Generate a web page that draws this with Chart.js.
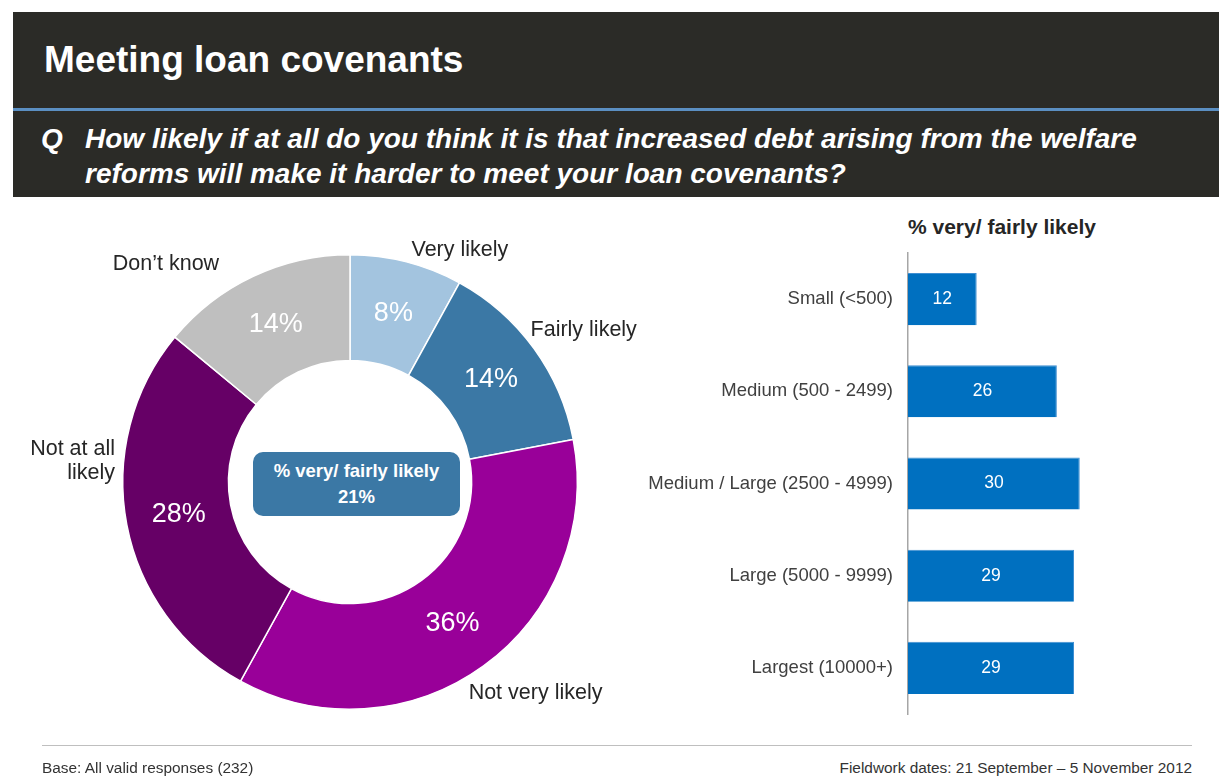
<!DOCTYPE html>
<html lang="en">
<head>
<meta charset="UTF-8">
<title>Meeting loan covenants</title>
<script src="https://cdn.jsdelivr.net/npm/chart.js"></script>
<style>
    body {
        margin: 0;
        width: 1219px;
        height: 777px;
        position: relative;
        background: #fff;
        font-family: 'Liberation Sans', Arial, sans-serif;
        overflow: hidden;
    }
    .header {
        position: absolute;
        left: 13px; top: 12px; right: 0;
        height: 96px;
        background: #2b2b27;
    }
    .header h1 {
        margin: 0;
        position: absolute;
        left: 31px; top: 27px;
        color: #fff;
        font-size: 37px;
        font-weight: bold;
    }
    .rule {
        position: absolute;
        left: 13px; right: 0; top: 108px;
        height: 3px;
        background: #5b8fc2;
    }
    .question {
        position: absolute;
        left: 13px; right: 0; top: 111px;
        height: 86px;
        background: #2b2b27;
        color: #fff;
        font-size: 28px;
        font-weight: bold;
        font-style: italic;
        line-height: 35px;
    }
    .question .q { position: absolute; left: 28px; top: 10px; }
    .question .txt { position: absolute; left: 72px; top: 10px; width: 1080px; }
    #pieWrap { position: absolute; left: 0; top: 200px; width: 700px; height: 560px; }
    #barWrap { position: absolute; left: 600px; top: 240px; width: 619px; height: 490px; }
    .centerBox {
        position: absolute;
        left: 253px; top: 452px;
        width: 207px; height: 64px;
        border-radius: 10px;
        background: #3b78a5;
        color: #fff;
        font-size: 18.5px;
        font-weight: bold;
        text-align: center;
        line-height: 26px;
        padding-top: 6px;
        box-sizing: border-box;
    }
    .barTitle {
        position: absolute;
        left: 908px; top: 215px;
        font-size: 21px;
        font-weight: bold;
        color: #262626;
    }
    .footLine {
        position: absolute;
        left: 42px; top: 745px;
        width: 1150px; height: 1px;
        background: #bfbfbf;
    }
    .foot {
        position: absolute;
        top: 759px;
        font-size: 15.4px;
        color: #333;
    }
</style>
</head>
<body>
<div class="header"><h1>Meeting loan covenants</h1></div>
<div class="rule"></div>
<div class="question">
    <span class="q">Q</span>
    <span class="txt">How likely if at all do you think it is that increased debt arising from the welfare reforms will make it harder to meet your loan covenants?</span>
</div>

<div id="pieWrap"><canvas id="pie"></canvas></div>
<div class="centerBox">% very/ fairly likely<br>21%</div>

<div class="barTitle">% very/ fairly likely</div>
<div id="barWrap"><canvas id="bar"></canvas></div>

<div class="footLine"></div>
<div class="foot" style="left:42px">Base: All valid responses (232)</div>
<div class="foot" style="right:27px">Fieldwork dates: 21 September &ndash; 5 November 2012</div>

<script>
    // donut data (clockwise from 12 o'clock)
    const answerLabels = ['Very likely', 'Fairly likely', 'Not very likely', ['Not at all', 'likely'], 'Don\u2019t know'];
    const answerShares = [8, 14, 36, 28, 14];
    const answerColors = ['#a3c4df', '#3b78a5', '#990099', '#660066', '#bfbfbf'];

    // bar data
    const sizeBands = ['Small (<500)', 'Medium (500 - 2499)', 'Medium / Large (2500 - 4999)', 'Large (5000 - 9999)', 'Largest (10000+)'];
    const likelyShares = [12, 26, 30, 29, 29];

    // small shifts for the outside labels so they sit like the original
    const outsideNudge = [[2, 0], [-13, -11], [-22, 18], [0, -66], [-29, -1]];

    const font = "'Liberation Sans', Arial, sans-serif";

    const donutLabels = {
        id: 'donutLabels',
        afterDatasetsDraw(chart) {
            const ctx = chart.ctx;
            const meta = chart.getDatasetMeta(0);
            ctx.save();
            meta.data.forEach((arc, i) => {
                // inside value
                const p = arc.tooltipPosition();
                ctx.fillStyle = '#fff';
                ctx.font = '27px ' + font;
                ctx.textAlign = 'center';
                ctx.textBaseline = 'middle';
                ctx.fillText(answerShares[i] + '%', p.x, p.y);

                // outside name
                const mid = (arc.startAngle + arc.endAngle) / 2;
                const r = arc.outerRadius + 12;
                const x = arc.x + Math.cos(mid) * r + outsideNudge[i][0];
                const y = arc.y + Math.sin(mid) * r + outsideNudge[i][1];
                const lines = Array.isArray(answerLabels[i]) ? answerLabels[i] : [answerLabels[i]];
                ctx.fillStyle = '#262626';
                ctx.font = '21.5px ' + font;
                ctx.textAlign = x > arc.x ? 'left' : 'right';
                const lh = 24;
                lines.forEach((ln, k) => {
                    ctx.fillText(ln, x, y + (k - (lines.length - 1) / 2) * lh);
                });
            });
            ctx.restore();
        }
    };

    new Chart(document.getElementById('pie'), {
        type: 'doughnut',
        data: {
            labels: answerLabels.map(l => Array.isArray(l) ? l.join(' ') : l),
            datasets: [{
                data: answerShares,
                backgroundColor: answerColors,
                borderColor: '#fff',
                borderWidth: 1.5
            }]
        },
        options: {
            responsive: true,
            maintainAspectRatio: false,
            animation: false,
            cutout: '53.5%',
            layout: { padding: { left: 122, right: 122, top: 54, bottom: 50 } },
            plugins: { legend: { display: false }, tooltip: { enabled: false } }
        },
        plugins: [donutLabels]
    });

    const barValues = {
        id: 'barValues',
        afterDatasetsDraw(chart) {
            const ctx = chart.ctx;
            const meta = chart.getDatasetMeta(0);
            ctx.save();
            ctx.fillStyle = '#fff';
            ctx.font = '17.5px ' + font;
            ctx.textAlign = 'center';
            ctx.textBaseline = 'middle';
            meta.data.forEach((bar, i) => {
                ctx.fillText(likelyShares[i], (bar.base + bar.x) / 2, bar.y);
            });
            ctx.restore();
        }
    };

    new Chart(document.getElementById('bar'), {
        type: 'bar',
        data: {
            labels: sizeBands,
            datasets: [{
                data: likelyShares,
                backgroundColor: '#0070c0',
                borderColor: '#3f8fd2',
                borderWidth: { top: 1, right: 1, bottom: 0, left: 0 },
                borderSkipped: false,
                categoryPercentage: 1,
                barPercentage: 0.565
            }]
        },
        options: {
            indexAxis: 'y',
            responsive: true,
            maintainAspectRatio: false,
            animation: false,
            layout: { padding: { left: 0, right: 82, top: 13, bottom: 16 } },
            scales: {
                x: { display: false, min: 0, max: 40 },
                y: {
                    afterFit(scale) {
                        scale.width = 308;
                        scale.paddingTop = 0;
                        scale.paddingBottom = 0;
                    },
                    grid: { display: false, drawTicks: false },
                    border: { display: true, color: '#a6a6a6', width: 1.5 },
                    ticks: {
                        padding: 15,
                        color: '#404040',
                        font: { family: font, size: 18.5 }
                    }
                }
            },
            plugins: { legend: { display: false }, tooltip: { enabled: false } }
        },
        plugins: [barValues]
    });
</script>
</body>
</html>
